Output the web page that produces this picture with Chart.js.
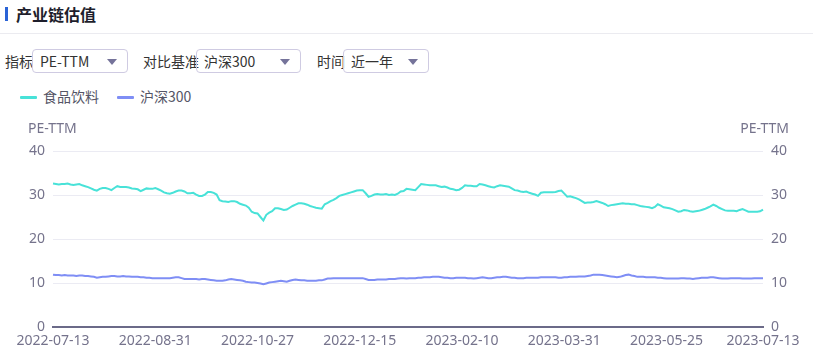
<!DOCTYPE html>
<html><head><meta charset="utf-8">
<script src="https://cdn.jsdelivr.net/npm/chart.js@4"></script>
<style>
html,body{margin:0;padding:0;background:#fff;width:813px;height:359px;overflow:hidden;font-family:"Noto Sans CJK SC","Noto Sans",sans-serif;}
#bar{position:absolute;left:5px;top:7px;width:3px;height:14px;background:#2a63d6;}
#title{position:absolute;left:16px;top:3px;font-size:16px;font-weight:bold;color:#1e1e2c;line-height:22px;}
#sep{position:absolute;left:0;top:33px;width:813px;height:1px;background:#ebebf0;}
.lbl{position:absolute;top:51px;font-size:14px;color:#333;line-height:20px;}
.sel{position:absolute;top:49px;border:1px solid #cfcbe2;border-radius:4px;box-sizing:border-box;height:24px;font-size:14px;color:#333;line-height:22px;padding-left:7px;}
.sel .arr{position:absolute;right:10px;top:9px;width:0;height:0;border-left:5px solid transparent;border-right:5px solid transparent;border-top:6px solid #75739a;}
#legend{position:absolute;left:20px;top:86px;font-size:14px;color:#555566;line-height:20px;white-space:nowrap;}
#legend .it{display:inline-block;margin-right:18px;}
#legend .ln{display:inline-block;width:17px;height:3px;border-radius:1px;vertical-align:middle;margin-right:6px;position:relative;top:-1px;}
#wrap{position:absolute;left:0;top:110px;width:813px;height:249px;}
</style></head><body>
<div id="bar"></div><div id="title">产业链估值</div><div id="sep"></div>
<div class="lbl" style="left:5px">指标</div>
<div class="sel" style="left:32px;width:96px">PE-TTM<span class="arr"></span></div>
<div class="lbl" style="left:143px">对比基准</div>
<div class="sel" style="left:196px;width:105px">沪深300<span class="arr"></span></div>
<div class="lbl" style="left:317px">时间</div>
<div class="sel" style="left:343px;width:86px">近一年<span class="arr"></span></div>
<div id="legend"></div>
<div id="wrap"><canvas id="c" width="813" height="249"></canvas></div>
<script>
const seriesNames = ["食品饮料", "沪深300"];
const seriesColors = ["#48e2d8", "#7f8ef5"];
const axisTitle = "PE-TTM";
const tickLabels = ["2022-07-13","2022-08-31","2022-10-27","2022-12-15","2023-02-10","2023-03-31","2023-05-25","2023-07-13"];
const tickIndex = [0,35,70,105,140,175,210,243];
const foodPE = [
32.6,32.5,32.4,32.5,32.5,32.6,32.4,32.3,32.4,32.5,
32.2,32.0,31.8,31.5,31.2,31.0,31.4,31.6,31.6,31.4,
31.1,31.6,32.0,31.8,31.8,31.8,31.7,31.5,31.4,31.3,
30.9,31.2,31.5,31.4,31.4,31.6,31.3,31.0,30.6,30.4,
30.3,30.5,30.8,31.0,31.0,30.8,30.4,30.4,30.5,30.1,
29.8,29.8,30.1,30.7,30.7,30.5,30.1,28.8,28.6,28.5,
28.4,28.6,28.6,28.4,28.0,27.8,27.6,27.1,26.2,25.9,
25.8,25.0,24.2,25.5,26.0,26.3,27.0,27.0,26.8,26.6,
26.7,27.1,27.5,27.8,28.1,28.1,28.0,27.8,27.5,27.3,
27.1,27.0,26.9,27.9,28.2,28.6,28.9,29.3,29.8,30.0,
30.2,30.4,30.6,30.8,31.0,31.1,31.1,30.4,29.6,29.8,
30.1,30.2,30.1,30.1,30.2,30.0,30.1,30.0,30.3,30.8,
30.9,31.4,31.3,31.2,31.1,31.8,32.5,32.4,32.3,32.2,
32.2,32.2,32.0,31.8,31.9,31.7,31.4,31.3,31.1,31.2,
31.6,32.2,32.1,32.1,32.0,32.0,32.5,32.4,32.2,32.0,
31.8,31.7,32.0,32.2,32.1,32.0,31.9,31.5,31.1,31.0,
30.8,30.7,30.8,30.5,30.3,30.1,29.8,30.5,30.6,30.6,
30.6,30.6,30.7,30.9,31.0,30.3,29.6,29.7,29.5,29.3,
29.0,28.6,28.2,28.3,28.3,28.4,28.6,28.4,28.2,27.9,
27.5,27.7,27.8,27.9,28.0,28.1,28.0,28.0,27.9,27.9,
27.7,27.5,27.4,27.3,27.2,27.0,27.3,27.9,27.6,27.2,
27.1,27.0,26.8,26.5,26.2,26.3,26.6,26.5,26.3,26.2,
26.3,26.4,26.6,26.8,27.1,27.4,27.8,27.5,27.1,26.8,
26.5,26.4,26.4,26.4,26.3,26.6,26.8,26.5,26.2,26.2,
26.2,26.2,26.3,26.7
];
const hs300PE = [
11.9,11.8,11.8,11.7,11.8,11.7,11.7,11.7,11.6,11.7,
11.7,11.6,11.6,11.5,11.4,11.2,11.3,11.4,11.4,11.5,
11.6,11.6,11.5,11.5,11.6,11.5,11.5,11.4,11.4,11.4,
11.3,11.3,11.2,11.2,11.1,11.1,11.1,11.1,11.1,11.1,
11.1,11.2,11.3,11.3,11.1,10.9,10.9,10.9,10.9,10.9,
10.8,10.9,10.9,10.8,10.7,10.6,10.5,10.5,10.5,10.6,
10.8,10.9,10.8,10.7,10.6,10.5,10.3,10.2,10.1,10.1,
10.0,9.9,9.7,9.9,10.1,10.2,10.3,10.4,10.5,10.4,
10.3,10.5,10.7,10.8,10.7,10.6,10.6,10.5,10.5,10.5,
10.5,10.6,10.6,10.8,11.0,11.0,11.1,11.1,11.1,11.1,
11.1,11.1,11.1,11.1,11.1,11.1,11.1,10.9,10.7,10.7,
10.7,10.8,10.8,10.8,10.8,10.9,10.9,10.9,11.0,11.1,
11.1,11.0,11.1,11.1,11.1,11.2,11.2,11.3,11.3,11.3,
11.4,11.4,11.4,11.3,11.2,11.2,11.1,11.1,11.2,11.2,
11.2,11.2,11.1,11.1,11.0,11.1,11.2,11.3,11.2,11.1,
11.1,11.2,11.3,11.3,11.4,11.4,11.3,11.2,11.2,11.1,
11.1,11.1,11.2,11.2,11.2,11.2,11.2,11.3,11.3,11.3,
11.3,11.3,11.3,11.2,11.2,11.3,11.3,11.4,11.4,11.4,
11.5,11.5,11.5,11.6,11.7,11.9,11.9,11.9,11.8,11.7,
11.6,11.5,11.4,11.3,11.4,11.6,11.8,11.9,11.7,11.6,
11.4,11.4,11.4,11.3,11.3,11.3,11.3,11.2,11.2,11.1,
11.0,11.0,11.0,11.0,11.0,11.1,11.1,11.0,11.0,10.9,
11.0,11.1,11.2,11.2,11.2,11.3,11.3,11.2,11.1,11.0,
11.0,11.0,11.1,11.1,11.1,11.1,11.0,11.0,11.0,11.0,
11.1,11.1,11.1,11.1
];
const yTicks = [0,10,20,30,40];

// categories: one per trading day, tick labels at their indices
const categories = foodPE.map((_, i) => {
  const k = tickIndex.indexOf(i);
  return k >= 0 ? tickLabels[k] : "";
});

// HTML legend from series
const lg = document.getElementById('legend');
seriesNames.forEach((n, i) => {
  const s = document.createElement('span'); s.className = 'it';
  s.innerHTML = '<span class="ln" style="background:' + seriesColors[i] + '"></span>' + n;
  lg.appendChild(s);
});

const tickColor = '#75738c';
const tickFont = {family: '"Noto Sans","Noto Sans CJK SC",sans-serif', size: 14};

const axisTitles = {
  id: 'axisTitles',
  afterDraw(chart) {
    const ctx = chart.ctx, a = chart.chartArea;
    ctx.save();
    ctx.font = '14px "Noto Sans","Noto Sans CJK SC",sans-serif';
    ctx.fillStyle = tickColor;
    ctx.textBaseline = 'middle';
    ctx.textAlign = 'left';
    ctx.fillText(axisTitle, 28, a.top - 22);
    ctx.textAlign = 'right';
    ctx.fillText(axisTitle, 789, a.top - 22);
    ctx.restore();
  }
};

new Chart(document.getElementById('c'), {
  type: 'line',
  data: {
    labels: categories,
    datasets: [
      {label: seriesNames[0], data: foodPE, borderColor: seriesColors[0], borderWidth: 2, pointRadius: 0, tension: 0, yAxisID: 'y'},
      {label: seriesNames[1], data: hs300PE, borderColor: seriesColors[1], borderWidth: 2, pointRadius: 0, tension: 0, yAxisID: 'y'}
    ]
  },
  options: {
    responsive: false, animation: false,
    layout: {padding: {top: 41, left: 0, right: 0, bottom: 0}},
    plugins: {legend: {display: false}, tooltip: {enabled: false}},
    scales: {
      x: {
        type: 'category', offset: false,
        grid: {display: false, drawTicks: false},
        border: {display: true, color: '#6b6a88', width: 2},
        ticks: {autoSkip: false, maxRotation: 0, minRotation: 0, padding: 6, color: tickColor, font: tickFont,
          callback: function(v, i) { return categories[i] ? categories[i] : null; }},
        afterFit: s => { s.height = 32; }
      },
      y: {
        position: 'left', min: 0, max: 40,
        afterBuildTicks: s => { s.ticks = yTicks.map(v => ({value: v})); },
        grid: {color: '#ebebf3', drawTicks: false, lineWidth: 1},
        border: {display: false},
        ticks: {padding: 8, color: tickColor, font: tickFont},
        afterFit: s => { s.width = 53; }
      },
      y2: {
        position: 'right', min: 0, max: 40,
        afterBuildTicks: s => { s.ticks = yTicks.map(v => ({value: v})); },
        grid: {display: false, drawTicks: false},
        border: {display: false},
        ticks: {padding: 8, color: tickColor, font: tickFont},
        afterFit: s => { s.width = 50; }
      }
    }
  },
  plugins: [axisTitles]
});
</script>
</body></html>
